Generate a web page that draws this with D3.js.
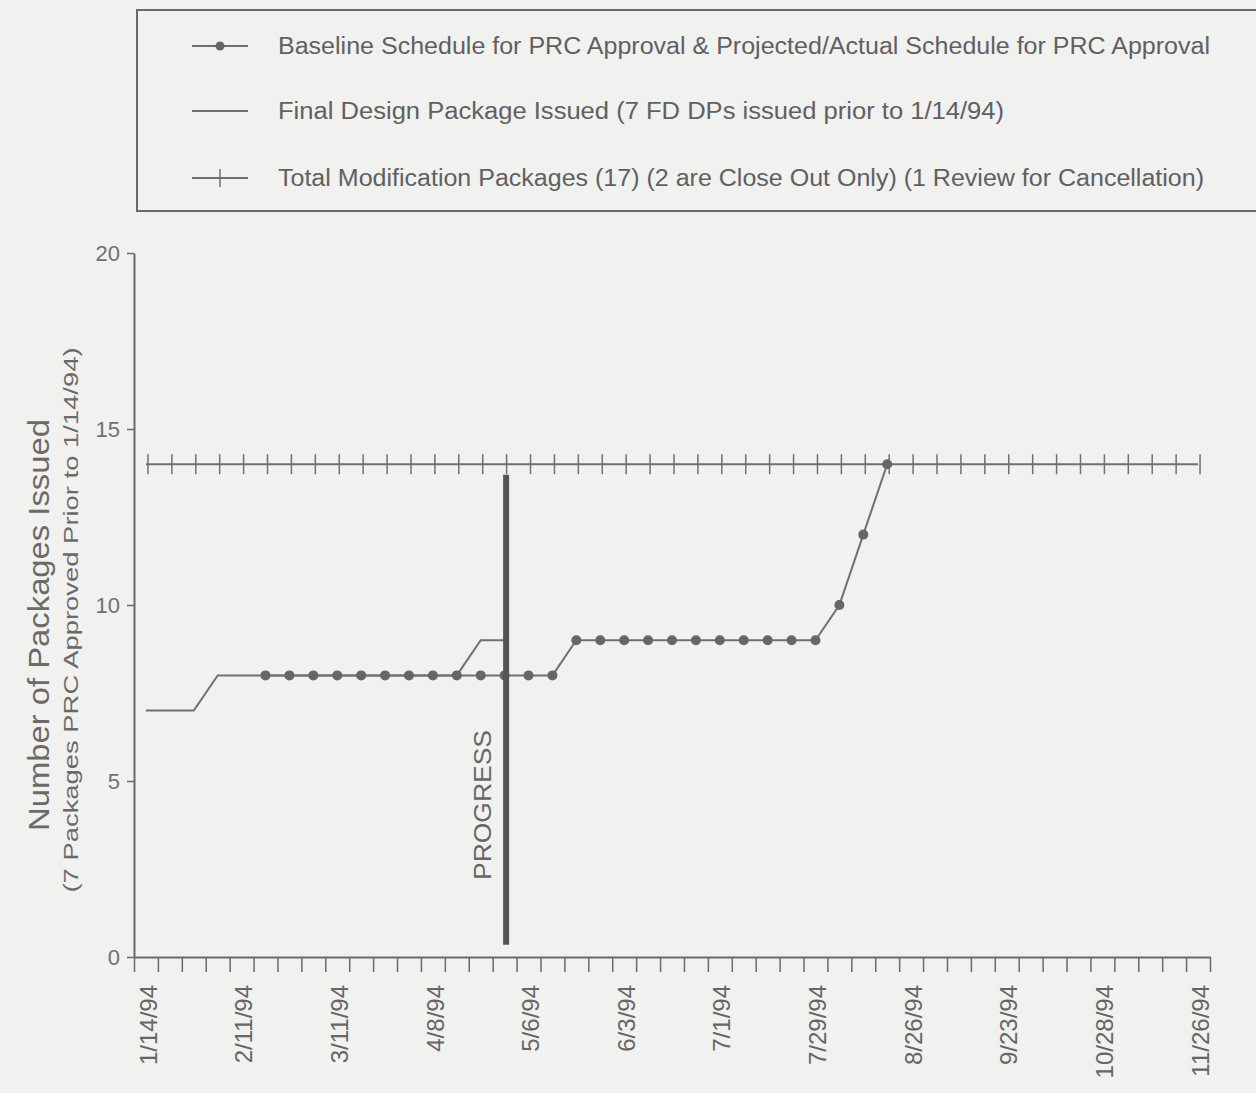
<!DOCTYPE html>
<html>
<head>
<meta charset="utf-8">
<script src="https://cdn.jsdelivr.net/npm/d3@7"></script>
<style>
  html, body { margin: 0; padding: 0; background: #f1f1f0; }
  svg { display: block; }
  text { font-family: "Liberation Sans", Arial, Helvetica, sans-serif; }
</style>
</head>
<body>
<svg id="chart" width="1256" height="1093"></svg>
<script>
// ---------- data ----------
const weekCount = 45;                       // weekly categories, 1/14/94 .. 11/26/94
const tickLabels = ["1/14/94","2/11/94","3/11/94","4/8/94","5/6/94","6/3/94",
                    "7/1/94","7/29/94","8/26/94","9/23/94","10/28/94","11/26/94"];
const labelEvery = 4;
const finalDesignStart = 0;
const finalDesign = [7,7,7,8,8,8,8,8,8,8,8,8,8,8,9,9];
const baselineStart = 5;
const baseline = [8,8,8,8,8,8,8,8,8,8,8,8,8, 9,9,9,9,9,9,9,9,9,9,9, 10,12,14];
const totalStart = 0;
const totalMods = [14,14,14,14,14,14,14,14,14,14,14,14,14,14,14,14,14,14,14,14,14,14,14,
                   14,14,14,14,14,14,14,14,14,14,14,14,14,14,14,14,14,14,14,14,14,14];
const progressWeek = 15;
const progressRange = [0.35, 13.7];
const yTicks = [0,5,10,15,20];
const legendItems = [
  "Baseline Schedule for PRC Approval & Projected/Actual Schedule for PRC Approval",
  "Final Design Package Issued (7 FD DPs issued prior to 1/14/94)",
  "Total Modification Packages (17) (2 are Close Out Only) (1 Review for Cancellation)"
];
const yTitle = "Number of Packages Issued";
const ySubTitle = "(7 Packages PRC Approved Prior to 1/14/94)";

// ---------- layout ----------
const svg = d3.select("#chart");
const plotL = 134, plotR = 1210, plotT = 253, plotB = 957;
const ink = "#6a6a6a", lineCol = "#707070", textCol = "#606060";

const xBand = d3.scaleBand().domain(d3.range(weekCount)).range([plotL, plotR]).paddingInner(0).paddingOuter(0);
const xc = i => xBand(i) + xBand.bandwidth() / 2;
const xLin = d3.scaleLinear().domain([0, weekCount]).range([plotL, plotR]);
const y = d3.scaleLinear().domain([0, 20]).range([plotB, plotT]);

// ---------- legend ----------
const lg = svg.append("g");
lg.append("rect").attr("x", 137).attr("y", 10).attr("width", 1140).attr("height", 201)
  .attr("fill", "none").attr("stroke", "#6a6a6a").attr("stroke-width", 2);
const legendY = [46, 111, 178];
const legendW = [932, 726, 926];
legendItems.forEach((t, k) => {
  const yy = legendY[k];
  lg.append("line").attr("x1", 192).attr("x2", 248).attr("y1", yy).attr("y2", yy)
    .attr("stroke", lineCol).attr("stroke-width", 2);
  if (k === 0) lg.append("circle").attr("cx", 220).attr("cy", yy).attr("r", 4.5).attr("fill", "#666");
  if (k === 2) lg.append("line").attr("x1", 220).attr("x2", 220).attr("y1", yy - 9).attr("y2", yy + 9)
    .attr("stroke", lineCol).attr("stroke-width", 1.5);
  lg.append("text").attr("x", 278).attr("y", yy).attr("dy", "0.36em")
    .attr("font-size", 23).attr("fill", textCol)
    .attr("textLength", legendW[k]).attr("lengthAdjust", "spacingAndGlyphs")
    .text(t);
});

// ---------- axes ----------
const yAxis = d3.axisLeft(y).tickValues(yTicks).tickSize(7).tickPadding(7).tickSizeOuter(0);
const yg = svg.append("g").attr("transform", `translate(${plotL},0)`).call(yAxis);
yg.select(".domain").attr("stroke", ink).attr("stroke-width", 2);
yg.selectAll(".tick line").attr("stroke", ink).attr("stroke-width", 1.5);
yg.selectAll(".tick text").attr("font-size", 22).attr("fill", "#707070")
  .attr("font-family", "'Liberation Sans', Arial, sans-serif");

const xAxis = d3.axisBottom(xLin).tickValues(d3.range(0, weekCount + 1)).tickSize(15).tickFormat("").tickSizeOuter(0);
const xg = svg.append("g").attr("transform", `translate(0,${plotB})`).call(xAxis);
xg.select(".domain").attr("stroke", ink).attr("stroke-width", 2);
xg.selectAll(".tick line").attr("stroke", ink).attr("stroke-width", 1.5);

const labelCats = d3.range(0, weekCount, labelEvery);
svg.append("g").selectAll("text").data(labelCats).join("text")
  .attr("transform", (c) => `translate(${xc(c) + 2},985) rotate(-90)`)
  .attr("text-anchor", "end").attr("dy", "0.36em")
  .attr("font-size", 24).attr("fill", "#666")
  .text((c, i) => tickLabels[i]);

// y titles
svg.append("text").attr("transform", "translate(39,625) rotate(-90)")
  .attr("text-anchor", "middle").attr("dy", "0.36em").attr("font-size", 29).attr("fill", "#6a6a6a")
  .attr("textLength", 412).attr("lengthAdjust", "spacingAndGlyphs").text(yTitle);
svg.append("text").attr("transform", "translate(70,620) rotate(-90)")
  .attr("text-anchor", "middle").attr("dy", "0.36em").attr("font-size", 21).attr("fill", "#6a6a6a")
  .attr("textLength", 545).attr("lengthAdjust", "spacingAndGlyphs").text(ySubTitle);

// ---------- series ----------
const line = d3.line().x(d => xc(d.i)).y(d => y(d.v));
const toPts = (arr, start) => arr.map((v, k) => ({ i: start + k, v }));

const totalPts = toPts(totalMods, totalStart);
svg.append("path").attr("d", line(totalPts)).attr("fill", "none").attr("stroke", lineCol).attr("stroke-width", 2);
svg.append("g").selectAll("line").data(totalPts).join("line")
  .attr("x1", d => xc(d.i) + 2).attr("x2", d => xc(d.i) + 2)
  .attr("y1", d => y(d.v) - 10).attr("y2", d => y(d.v) + 10)
  .attr("stroke", lineCol).attr("stroke-width", 1.5);

const fdPts = toPts(finalDesign, finalDesignStart);
svg.append("path").attr("d", line(fdPts)).attr("fill", "none").attr("stroke", lineCol).attr("stroke-width", 2);

const blPts = toPts(baseline, baselineStart);
svg.append("path").attr("d", line(blPts)).attr("fill", "none").attr("stroke", lineCol).attr("stroke-width", 2);
svg.append("g").selectAll("circle").data(blPts).join("circle")
  .attr("cx", d => xc(d.i)).attr("cy", d => y(d.v)).attr("r", 5).attr("fill", "#666");

// progress line
svg.append("line").attr("x1", xc(progressWeek) + 1.5).attr("x2", xc(progressWeek) + 1.5)
  .attr("y1", y(progressRange[1])).attr("y2", y(progressRange[0]))
  .attr("stroke", "#555").attr("stroke-width", 6);
svg.append("text").attr("transform", `translate(${xc(progressWeek) - 22},805) rotate(-90)`)
  .attr("text-anchor", "middle").attr("dy", "0.36em").attr("font-size", 24).attr("fill", "#666")
  .attr("textLength", 150).attr("lengthAdjust", "spacingAndGlyphs").text("PROGRESS");
</script>
</body>
</html>
